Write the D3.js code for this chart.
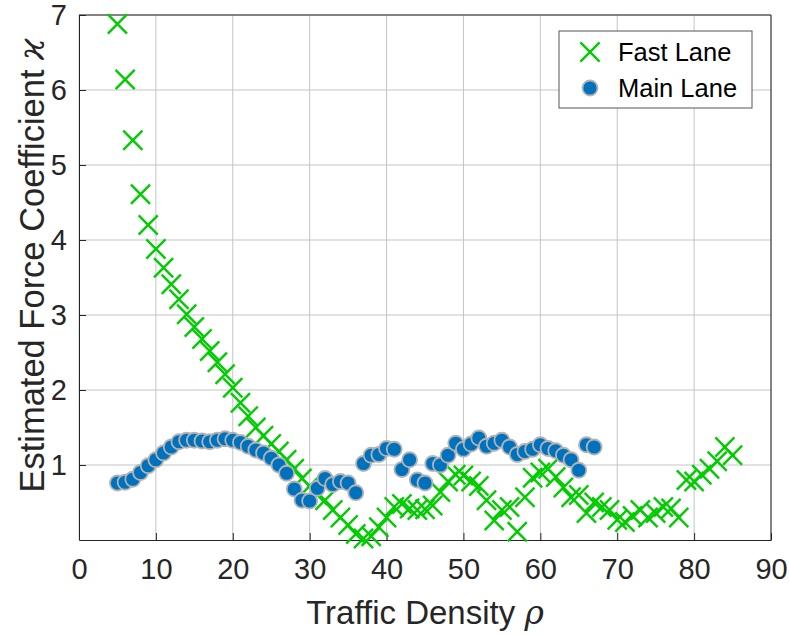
<!DOCTYPE html>
<html>
<head>
<meta charset="utf-8">
<script src="https://cdn.jsdelivr.net/npm/d3@7"></script>
<style>
  body { margin: 0; background: #fff; }
  svg { display: block; }
</style>
</head>
<body>
<div id="root"></div>
<script>
// data
var fastX = [5, 6, 7, 8, 9, 10, 11, 12, 13, 14, 15, 16, 17, 18, 19, 20, 21, 22, 23, 24,
             25, 26, 27, 28, 29, 30, 31, 32, 33, 34, 35, 36, 37, 38, 39, 40, 41, 42, 43, 44,
             45, 46, 47, 48, 49, 50, 51, 52, 53, 54, 55, 56, 57, 58, 59, 60, 61, 62, 63, 64,
             65, 66, 67, 68, 69, 70, 71, 72, 73, 74, 75, 76, 77, 78, 79, 80, 81, 82, 83, 84, 85];
var fastY = [6.88, 6.14, 5.33, 4.61, 4.2, 3.88, 3.63, 3.41, 3.21, 3.01, 2.84, 2.68, 2.52, 2.37, 2.21, 2.03, 1.83, 1.65, 1.5, 1.39,
             1.28, 1.18, 1.07, 0.95, 0.82, 0.72, 0.6, 0.53, 0.4, 0.3, 0.2, 0.08, 0.02, 0.05, 0.17, 0.3, 0.44, 0.48, 0.42, 0.4,
             0.41, 0.46, 0.64, 0.78, 0.87, 0.86, 0.78, 0.72, 0.53, 0.26, 0.4, 0.44, 0.11, 0.57, 0.83, 0.9, 0.95, 0.84, 0.7, 0.57,
             0.6, 0.36, 0.5, 0.44, 0.4, 0.27, 0.24, 0.32, 0.4, 0.3, 0.36, 0.44, 0.42, 0.3, 0.8, 0.78, 0.87, 0.95, 1.05, 1.24, 1.13];

var mainX = [5, 6, 7, 8, 9, 10, 11, 12, 13, 14, 15, 16, 17, 18, 19, 20, 21, 22, 23, 24,
             25, 26, 27, 28, 29, 30, 31, 32, 33, 34, 35, 36, 37, 38, 39, 40, 41, 42, 43, 44,
             45, 46, 47, 48, 49, 50, 51, 52, 53, 54, 55, 56, 57, 58, 59, 60, 61, 62, 63, 64,
             65, 66, 67];
var mainY = [0.76, 0.77, 0.81, 0.9, 0.99, 1.07, 1.16, 1.24, 1.31, 1.33, 1.33, 1.32, 1.31, 1.33, 1.35, 1.33, 1.3, 1.25, 1.2, 1.16,
             1.09, 1.0, 0.89, 0.68, 0.53, 0.52, 0.69, 0.82, 0.74, 0.78, 0.76, 0.63, 1.02, 1.13, 1.14, 1.22, 1.21, 0.94, 1.07, 0.8,
             0.76, 1.02, 1.0, 1.13, 1.29, 1.21, 1.28, 1.36, 1.25, 1.29, 1.33, 1.24, 1.14, 1.18, 1.21, 1.27, 1.22, 1.19, 1.13, 1.07,
             0.93, 1.27, 1.24];

var xTicks = [0, 10, 20, 30, 40, 50, 60, 70, 80, 90];
var yTicks = [1, 2, 3, 4, 5, 6, 7];
var seriesNames = ["Fast Lane", "Main Lane"];

var fastData = fastX.map((x, i) => ({x: x, y: fastY[i]}));
var mainData = mainX.map((x, i) => ({x: x, y: mainY[i]}));

// sizes
var svgWidth = 789;
var svgHeight = 635;
const margin = { top: 15, bottom: 95, left: 79, right: 18 };

var green = "#00cc00";
var blue = "#0072bd";
var axisColor = "#262626";

var x = d3.scaleLinear()
  .domain([0, 90])
  .range([margin.left, svgWidth - margin.right]);
var y = d3.scaleLinear()
  .domain([0, 7])
  .range([svgHeight - margin.bottom, margin.top]);

var svg = d3.select("#root")
  .append("svg")
  .attr("width", svgWidth)
  .attr("height", svgHeight)
  .style("font-family", "'Liberation Sans', Arial, sans-serif");

// grid
var grid = svg.append("g").attr("stroke", "#c4c4c4").attr("stroke-width", 1);
grid.selectAll("line.gx")
  .data(xTicks)
  .enter().append("line")
  .attr("x1", d => x(d)).attr("x2", d => x(d))
  .attr("y1", y(0)).attr("y2", y(7));
grid.selectAll("line.gy")
  .data(yTicks)
  .enter().append("line")
  .attr("x1", x(0)).attr("x2", x(90))
  .attr("y1", d => y(d)).attr("y2", d => y(d));

// axes (ticks pointing inward, like matlab)
function xAxis(g) {
  g.attr("transform", `translate(0,${y(0)})`)
    .call(d3.axisBottom(x).tickValues(xTicks).tickFormat(d3.format("d"))
      .tickSizeInner(-7).tickSizeOuter(0).tickPadding(18))
    .attr("font-size", "29px")
    .attr("font-family", null);
  g.selectAll("path, line").attr("stroke", axisColor);
  g.selectAll("text").attr("fill", axisColor);
}
function yAxis(g) {
  g.attr("transform", `translate(${x(0)},0)`)
    .call(d3.axisLeft(y).tickValues(yTicks).tickFormat(d3.format("d"))
      .tickSizeInner(-7).tickSizeOuter(0).tickPadding(12))
    .attr("font-size", "29px")
    .attr("font-family", null);
  g.selectAll("path, line").attr("stroke", axisColor);
  g.selectAll("text").attr("fill", axisColor);
}
svg.append("g").call(xAxis);
svg.append("g").call(yAxis);

// box top + right
svg.append("line")
  .attr("x1", x(0)).attr("x2", x(90)).attr("y1", y(7)).attr("y2", y(7))
  .attr("stroke", axisColor);
svg.append("line")
  .attr("x1", x(90)).attr("x2", x(90)).attr("y1", y(0)).attr("y2", y(7))
  .attr("stroke", axisColor);

// markers
var cross = d3.symbol().type(d3.symbolX).size(240);

svg.append("g").selectAll("path")
  .data(fastData)
  .enter().append("path")
  .attr("d", cross)
  .attr("transform", d => `translate(${x(d.x)},${y(d.y)})`)
  .attr("fill", "none")
  .attr("stroke", green)
  .attr("stroke-width", 2.4);

svg.append("g").selectAll("circle")
  .data(mainData)
  .enter().append("circle")
  .attr("cx", d => x(d.x))
  .attr("cy", d => y(d.y))
  .attr("r", 7.5)
  .attr("fill", blue)
  .attr("stroke", "#b3b3b3")
  .attr("stroke-width", 1.8);

// legend
var legend = svg.append("g").attr("transform", "translate(559,31)");
legend.append("rect")
  .attr("width", 193).attr("height", 77)
  .attr("fill", "#fff").attr("stroke", "#555").attr("stroke-width", 1);
legend.append("path")
  .attr("d", cross)
  .attr("transform", "translate(31,21)")
  .attr("fill", "none").attr("stroke", green).attr("stroke-width", 2.4);
legend.append("circle")
  .attr("cx", 31).attr("cy", 57).attr("r", 7.5)
  .attr("fill", blue).attr("stroke", "#b3b3b3").attr("stroke-width", 1.8);
legend.selectAll("text")
  .data(seriesNames)
  .enter().append("text")
  .attr("x", 59)
  .attr("y", (d, i) => 21 + i * 36)
  .attr("dy", "0.36em")
  .attr("font-size", "25.5px")
  .attr("fill", "#000")
  .text(d => d);

// axis labels
var xl = svg.append("text")
  .attr("text-anchor", "middle")
  .attr("x", (x(0) + x(90)) / 2)
  .attr("y", 624)
  .attr("font-size", "33px")
  .attr("fill", axisColor);
xl.append("tspan").text("Traffic Density ");
xl.append("tspan").attr("font-family", "'DejaVu Serif', serif").attr("font-style", "italic").text("ρ");

var yl = svg.append("text")
  .attr("text-anchor", "middle")
  .attr("transform", `translate(44,${(y(0) + y(7)) / 2 - 12}) rotate(-90)`)
  .attr("font-size", "34.5px")
  .attr("fill", axisColor);
yl.append("tspan").text("Estimated Force Coefficient ");
yl.append("tspan").attr("font-family", "'DejaVu Serif', serif").attr("font-style", "italic").text("ϰ");
</script>
</body>
</html>
